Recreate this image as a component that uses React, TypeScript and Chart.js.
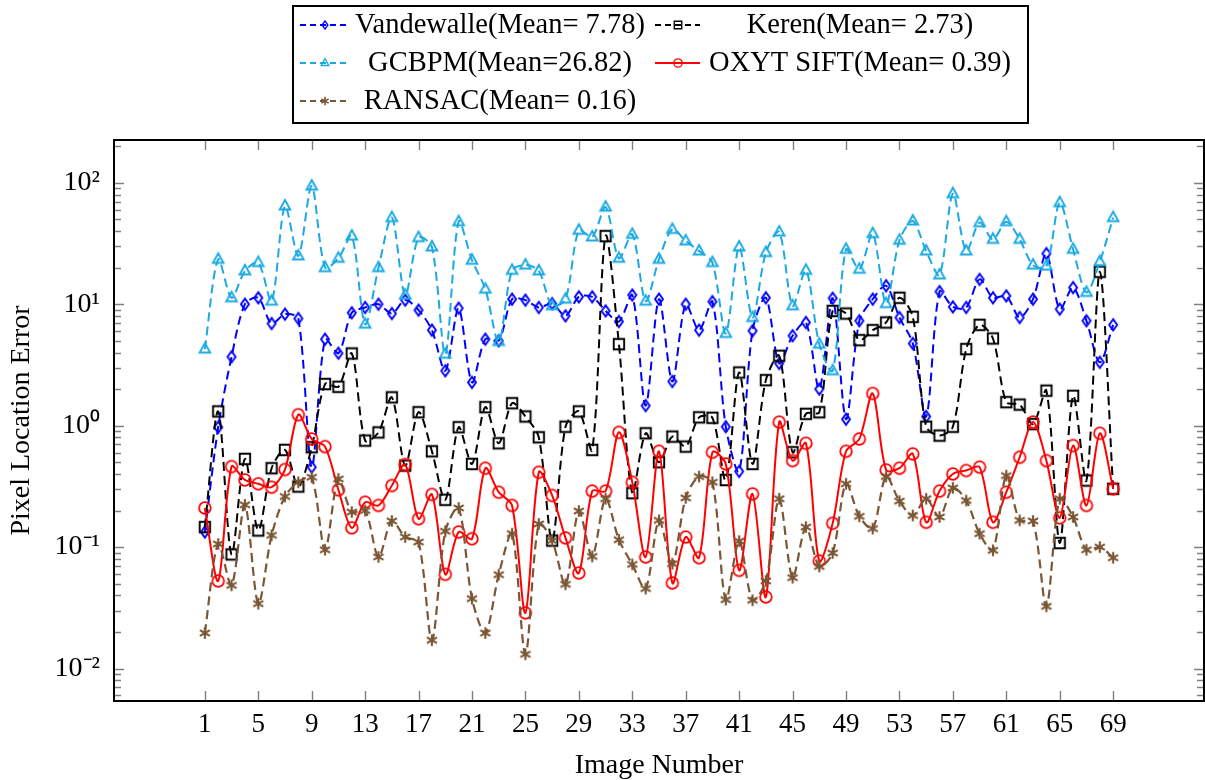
import React, { useEffect, useRef } from "react";
import { Chart, registerables } from "chart.js";

Chart.register(...registerables);

// ---------- data ----------
const imageNumbers = [
  1, 2, 3, 4, 5, 6, 7, 8, 9, 10, 11, 12, 13, 14, 15, 16, 17, 18, 19, 20, 21, 22, 23,
  24, 25, 26, 27, 28, 29, 30, 31, 32, 33, 34, 35, 36, 37, 38, 39, 40, 41, 42, 43, 44,
  45, 46, 47, 48, 49, 50, 51, 52, 53, 54, 55, 56, 57, 58, 59, 60, 61, 62, 63, 64, 65,
  66, 67, 68, 69,
];

const xTickValues = [1, 5, 9, 13, 17, 21, 25, 29, 33, 37, 41, 45, 49, 53, 57, 61, 65, 69];
const yTickValues = [0.01, 0.1, 1, 10, 100];
const yTickLabels = ["10⁻²", "10⁻¹", "10⁰", "10¹", "10²"];

const seriesNames = [
  "Vandewalle(Mean= 7.78)",
  "Keren(Mean= 2.73)",
  "GCBPM(Mean=26.82)",
  "OXYT SIFT(Mean= 0.39)",
  "RANSAC(Mean= 0.16)",
];

const vandewalle = [
  0.133, 0.97, 3.69, 10.0, 11.3, 6.93, 8.28, 7.62, 0.455, 5.15, 3.95, 8.5, 9.4, 10.0,
  8.38, 10.8, 8.93, 6.11, 2.83, 9.27, 2.27, 5.15, 5.0, 11.0, 10.8, 9.4, 10.1, 8.02, 11.5,
  11.5, 8.81, 7.2, 11.9, 1.46, 11.0, 2.31, 10.0, 6.11, 10.5, 0.98, 0.42, 6.04, 11.3, 3.25,
  5.5, 7.07, 2.0, 11.2, 1.13, 7.3, 11.0, 14.2, 7.77, 4.75, 1.19, 12.7, 9.5, 9.4, 16.0,
  11.3, 11.7, 7.77, 11.0, 26.1, 9.1, 13.7, 7.3, 3.32, 6.76,
];

const keren = [
  0.146, 1.31, 0.087, 0.532, 0.137, 0.446, 0.631, 0.315, 0.664, 2.2, 2.09, 3.93, 0.753,
  0.88, 1.71, 0.469, 1.29, 0.615, 0.245, 0.97, 0.484, 1.42, 0.716, 1.53, 1.19, 0.802,
  0.113, 0.98, 1.31, 0.631, 36.4, 4.69, 0.278, 0.865, 0.5, 0.812, 0.672, 1.17, 1.16,
  0.357, 2.74, 0.484, 2.37, 3.76, 0.604, 1.25, 1.29, 8.81, 8.38, 5.06, 6.11, 7.07, 11.3,
  7.87, 0.98, 0.828, 0.98, 4.27, 6.76, 5.22, 1.56, 1.49, 1.03, 1.94, 0.108, 1.76, 0.353,
  18.5, 0.302,
];

const gcbpm = [
  4.27, 23.4, 11.3, 18.8, 22.0, 10.6, 64.3, 25.0, 93.9, 20.0, 23.9, 36.4, 6.85, 20.0,
  51.6, 11.9, 35.3, 29.6, 3.88, 47.8, 23.0, 13.3, 4.93, 19.0, 21.0, 18.8, 9.7, 11.0, 40.6,
  35.8, 63.0, 23.9, 37.6, 10.6, 23.4, 41.3, 33.2, 27.4, 22.0, 5.74, 29.6, 7.77, 26.6,
  39.3, 9.7, 19.0, 4.69, 2.83, 28.3, 19.4, 38.1, 10.1, 33.6, 48.4, 27.4, 17.4, 81.2, 27.4,
  46.9, 34.2, 47.8, 34.2, 21.0, 20.6, 68.5, 28.3, 12.5, 22.4, 51.6,
];

const oxytSift = [
  0.21, 0.0526, 0.46, 0.357, 0.332, 0.311, 0.435, 1.23, 0.777, 0.672, 0.296, 0.144, 0.234,
  0.22, 0.321, 0.478, 0.171, 0.271, 0.0596, 0.133, 0.117, 0.446, 0.283, 0.22, 0.0287,
  0.413, 0.266, 0.119, 0.0611, 0.289, 0.289, 0.881, 0.342, 0.0828, 0.615, 0.0506, 0.121,
  0.0817, 0.604, 0.484, 0.0643, 0.274, 0.0388, 1.07, 0.515, 0.716, 0.0767, 0.157, 0.615,
  0.777, 1.84, 0.432, 0.446, 0.585, 0.16, 0.289, 0.4, 0.427, 0.455, 0.16, 0.283, 0.549,
  1.07, 0.515, 0.174, 0.685, 0.22, 0.865, 0.302,
];

const ransac = [
  0.0196, 0.106, 0.0484, 0.223, 0.0342, 0.125, 0.261, 0.342, 0.376, 0.095, 0.364, 0.194,
  0.2, 0.083, 0.164, 0.121, 0.11, 0.0171, 0.135, 0.21, 0.0376, 0.0196, 0.0593, 0.129,
  0.0131, 0.155, 0.113, 0.0493, 0.198, 0.0838, 0.25, 0.115, 0.072, 0.0455, 0.166, 0.0729,
  0.254, 0.381, 0.342, 0.0369, 0.112, 0.0365, 0.0526, 0.25, 0.056, 0.146, 0.0693, 0.0893,
  0.332, 0.179, 0.142, 0.381, 0.239, 0.182, 0.25, 0.177, 0.307, 0.242, 0.129, 0.094,
  0.388, 0.166, 0.164, 0.0325, 0.25, 0.177, 0.095, 0.1, 0.0817,
];

// ---------- styling ----------
const W = 1205;
const H = 780;
const FONT = '"Liberation Serif", "Times New Roman", serif';
const X_MIN = -5.8;
const X_MAX = 75.8;
const Y_MIN = 0.0054;
const Y_MAX = 225;

type Kind = "diamond" | "square" | "triangle" | "circle" | "star";

const seriesStyles: { color: string; kind: Kind; dashed: boolean; width: number }[] = [
  { color: "#0000ff", kind: "diamond", dashed: true, width: 2 },
  { color: "#000000", kind: "square", dashed: true, width: 2 },
  { color: "#1aa9e3", kind: "triangle", dashed: true, width: 2 },
  { color: "#ff0000", kind: "circle", dashed: false, width: 2 },
  { color: "#7a5634", kind: "star", dashed: true, width: 2.2 },
];

function makeMarker(kind: Kind, color: string, s: number): HTMLCanvasElement {
  const size = 22;
  const c = document.createElement("canvas");
  c.width = size;
  c.height = size;
  const g = c.getContext("2d")!;
  g.translate(size / 2, size / 2);
  g.scale(s, s);
  g.strokeStyle = color;
  g.lineWidth = 1.9;
  g.beginPath();
  if (kind === "diamond") {
    g.moveTo(0, -5.6);
    g.lineTo(4.0, 0);
    g.lineTo(0, 5.6);
    g.lineTo(-4.0, 0);
    g.closePath();
  } else if (kind === "square") {
    g.rect(-5.2, -5.2, 10.4, 10.4);
  } else if (kind === "triangle") {
    g.moveTo(0, -6.0);
    g.lineTo(5.3, 3.5);
    g.lineTo(-5.3, 3.5);
    g.closePath();
  } else if (kind === "circle") {
    g.lineWidth = 1.8;
    g.arc(0, 0, 5.8, 0, Math.PI * 2);
  } else {
    g.lineWidth = 2.2;
    for (let k = 0; k < 3; k++) {
      const a = Math.PI / 2 + (k * Math.PI) / 3;
      g.moveTo(Math.cos(a) * 5.8, Math.sin(a) * 5.8);
      g.lineTo(-Math.cos(a) * 5.8, -Math.sin(a) * 5.8);
    }
  }
  g.stroke();
  return c;
}

function isPow10(v: number) {
  const l = Math.log10(v);
  return Math.abs(l - Math.round(l)) < 1e-9;
}

export default function App() {
  const ref = useRef<HTMLCanvasElement | null>(null);

  useEffect(() => {
    const canvas = ref.current;
    if (!canvas) return;
    document.body.style.margin = "0";
    document.body.style.background = "#ffffff";

    const seriesValues = [vandewalle, keren, gcbpm, oxytSift, ransac];
    const plotMarkers = seriesStyles.map((st) => makeMarker(st.kind, st.color, 1));
    const legendMarkers = seriesStyles.map((st) => makeMarker(st.kind, st.color, 0.72));

    const datasets = seriesValues.map((vals, i) => ({
      label: seriesNames[i],
      data: vals.map((v, j) => ({ x: imageNumbers[j], y: v })),
      borderColor: seriesStyles[i].color,
      backgroundColor: "transparent",
      borderWidth: seriesStyles[i].width,
      borderDash: seriesStyles[i].dashed ? [9, 5] : [],
      pointStyle: plotMarkers[i] as any,
      pointRadius: 5,
      pointHoverRadius: 5,
      tension: 0.3,
      fill: false,
      order: 5 - i,
    }));

    const framePlugin = {
      id: "frameTicks",
      afterDraw(chart: any) {
        const { ctx, chartArea: a, scales } = chart;
        ctx.save();
        ctx.strokeStyle = "#808080";
        ctx.lineWidth = 1.4;
        ctx.beginPath();
        for (const v of xTickValues) {
          const px = Math.round(scales.x.getPixelForValue(v)) + 0.5;
          ctx.moveTo(px, a.bottom);
          ctx.lineTo(px, a.bottom - 10);
          ctx.moveTo(px, a.top);
          ctx.lineTo(px, a.top + 10);
        }
        for (const t of scales.y.ticks) {
          const len = isPow10(t.value) ? 10 : 7;
          const py = Math.round(scales.y.getPixelForValue(t.value)) + 0.5;
          ctx.moveTo(a.left, py);
          ctx.lineTo(a.left + len, py);
          ctx.moveTo(a.right, py);
          ctx.lineTo(a.right - len, py);
        }
        ctx.stroke();
        ctx.strokeStyle = "#000000";
        ctx.lineWidth = 2;
        ctx.strokeRect(a.left, a.top, a.right - a.left, a.bottom - a.top);
        ctx.restore();
      },
    };

    const legendPlugin = {
      id: "boxLegend",
      afterDraw(chart: any) {
        const ctx = chart.ctx;
        ctx.save();
        ctx.strokeStyle = "#000000";
        ctx.lineWidth = 2;
        ctx.strokeRect(293, 6, 735, 117);
        const rowY = [25, 63, 101];
        const sampleX = [
          [300, 350],
          [655, 700],
        ];
        const textX = [500, 860];
        ctx.font = `28.5px ${FONT}`;
        ctx.textAlign = "center";
        ctx.textBaseline = "middle";
        seriesNames.forEach((name, i) => {
          const col = i % 2;
          const row = Math.floor(i / 2);
          const y = rowY[row];
          const st = seriesStyles[i];
          ctx.beginPath();
          ctx.setLineDash(st.dashed ? [6, 4] : []);
          ctx.strokeStyle = st.color;
          ctx.lineWidth = 2;
          ctx.moveTo(sampleX[col][0], y);
          ctx.lineTo(sampleX[col][1], y);
          ctx.stroke();
          ctx.setLineDash([]);
          const mk = legendMarkers[i];
          const mx = (sampleX[col][0] + sampleX[col][1]) / 2;
          ctx.drawImage(mk, Math.round(mx - mk.width / 2), Math.round(y - mk.height / 2));
          ctx.fillStyle = "#000000";
          ctx.fillText(name, textX[col], y + 1);
        });
        ctx.restore();
      },
    };

    const chart = new Chart(canvas, {
      type: "line",
      data: { datasets: datasets as any },
      options: {
        animation: false,
        responsive: false,
        maintainAspectRatio: false,
        layout: { autoPadding: false, padding: { top: 140, right: 1, left: 0, bottom: 0 } },
        plugins: {
          legend: { display: false },
          tooltip: { enabled: false },
          title: { display: false },
        },
        scales: {
          x: {
            type: "linear",
            min: X_MIN,
            max: X_MAX,
            afterBuildTicks: (s: any) => {
              s.ticks = xTickValues.map((v) => ({ value: v }));
            },
            afterFit: (s: any) => {
              s.height = 79;
              s.paddingLeft = 0;
              s.paddingRight = 0;
            },
            grid: { display: false, drawTicks: false },
            border: { display: false },
            ticks: {
              autoSkip: false,
              maxRotation: 0,
              padding: 8,
              color: "#000000",
              font: { family: FONT, size: 27 },
              callback: (v: any) => String(v),
            },
            title: {
              display: true,
              text: "Image Number",
              color: "#000000",
              font: { family: FONT, size: 28 },
              padding: { top: 0, bottom: -2 },
            },
          },
          y: {
            type: "logarithmic",
            min: Y_MIN,
            max: Y_MAX,
            afterBuildTicks: (s: any) => {
              const ticks: { value: number }[] = [];
              for (let k = -3; k <= 2; k++) {
                for (let m = 1; m <= 9; m++) {
                  const v = m * Math.pow(10, k);
                  if (v >= Y_MIN && v <= Y_MAX) ticks.push({ value: v });
                }
              }
              s.ticks = ticks;
            },
            afterFit: (s: any) => {
              s.width = 114;
              s.paddingTop = 0;
              s.paddingBottom = 0;
            },
            grid: { display: false, drawTicks: false },
            border: { display: false },
            ticks: {
              autoSkip: false,
              padding: 14,
              color: "#000000",
              font: { family: FONT, size: 28 },
              callback: (v: any) => {
                const idx = yTickValues.findIndex((t) => Math.abs(Math.log10(t) - Math.log10(v)) < 1e-9);
                return idx >= 0 ? yTickLabels[idx] : "";
              },
            },
            title: {
              display: true,
              text: "Pixel Location Error",
              color: "#000000",
              font: { family: FONT, size: 28 },
              padding: { top: 5, bottom: 0 },
            },
          },
        },
      },
      plugins: [framePlugin, legendPlugin],
    });

    return () => {
      chart.destroy();
    };
  }, []);

  return (
    <div style={{ position: "fixed", left: 0, top: 0, width: W, height: H, background: "#ffffff" }}>
      <canvas ref={ref} width={W} height={H} style={{ width: W, height: H, display: "block" }} />
    </div>
  );
}
